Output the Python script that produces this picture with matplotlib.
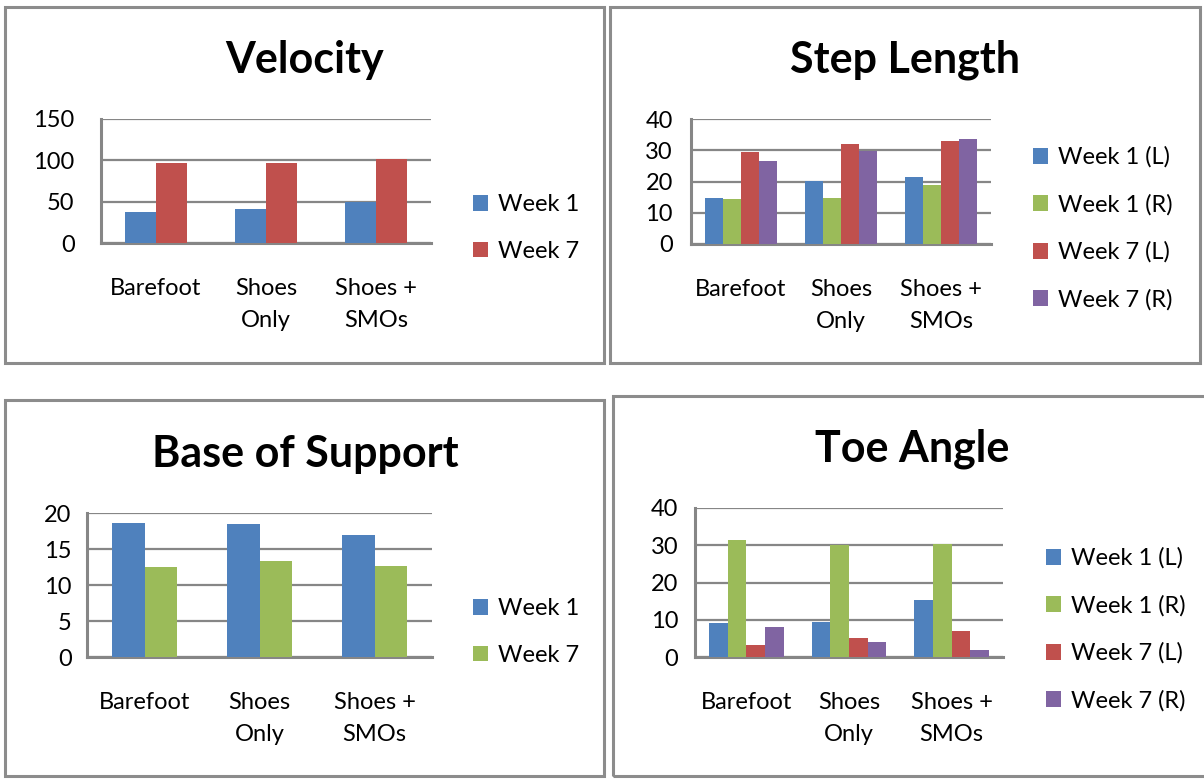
import numpy as np
import matplotlib
matplotlib.use("Agg")
import matplotlib.pyplot as plt
from matplotlib.patches import Rectangle

plt.rcParams['font.family'] = ['Lato', 'DejaVu Sans']

# data
categories = ['Barefoot', 'Shoes\nOnly', 'Shoes +\nSMOs']

vel_week1 = [37.5, 41.5, 50]
vel_week7 = [97, 96.5, 101.5]

step_w1_L = [14.8, 20.3, 21.4]
step_w1_R = [14.4, 14.8, 18.8]
step_w7_L = [29.5, 32, 32.9]
step_w7_R = [26.5, 29.8, 33.6]

bos_week1 = [18.6, 18.5, 17.0]
bos_week7 = [12.5, 13.3, 12.7]

toe_w1_L = [9.1, 9.5, 15.3]
toe_w1_R = [31.5, 30.1, 30.3]
toe_w7_L = [3.2, 5.0, 7.0]
toe_w7_R = [8.0, 4.0, 2.0]

BLUE, RED, GREEN, PURPLE = '#4F81BD', '#C0504D', '#9BBB59', '#8064A2'
GRID = '#868686'
FS = 17

W, H = 1204, 783
fig = plt.figure(figsize=(W/100, H/100), dpi=100)

def px_axes(l, r, t, b):
  return fig.add_axes([l/W, 1-b/H, (r-l)/W, (b-t)/H])

def border(l, r, t, b):
  fig.add_artist(Rectangle((l/W, 1-b/H), (r-l)/W, (b-t)/H, transform=fig.transFigure,
                           fill=False, edgecolor='#8c8c8c', linewidth=2.2))

def bar_panel(ax, series, labels, colors, yticks, ypad, leg_x, leg_y):
  n = len(series)
  bw = 1.0/(n+1.5)
  x = np.arange(len(categories))
  for i, (vals, lab, col) in enumerate(zip(series, labels, colors)):
    ax.bar(x - n*bw/2 + bw*(i+0.5), vals, width=bw, color=col, label=lab, zorder=3)
  ax.set_xlim(-0.5, len(categories)-0.5)
  ax.set_ylim(yticks[0], yticks[-1])
  ax.set_yticks(yticks)
  ax.set_xticks(x)
  ax.set_xticklabels(categories, linespacing=1.62)
  ax.yaxis.grid(True, color=GRID, linewidth=1.6, zorder=0)
  ax.set_axisbelow(True)
  for s in ['top', 'right']:
    ax.spines[s].set_visible(False)
  for s in ['left', 'bottom']:
    ax.spines[s].set_color(GRID)
    ax.spines[s].set_linewidth(2.2)
  ax.tick_params(axis='x', length=0, pad=25.5, labelsize=FS)
  ax.tick_params(axis='y', length=0, pad=ypad, labelsize=FS)
  ax.legend(loc='center left', bbox_to_anchor=(leg_x/W, 1-leg_y/H), bbox_transform=fig.transFigure,
            frameon=False, fontsize=FS, handlelength=0.64, handleheight=0.64, handletextpad=0.4,
            labelspacing=1.1, borderpad=0, borderaxespad=0)

# panel borders
border(5, 604, 7, 363)
border(610, 1200, 7, 363)
border(5, 604, 400, 776)
border(613, 1212, 396, 776)

ax1 = px_axes(101, 431, 119, 243)
bar_panel(ax1, [vel_week1, vel_week7], ['Week 1', 'Week 7'], [BLUE, RED],
          [0, 50, 100, 150], 19, 473, 228)

ax2 = px_axes(691, 991, 119, 244)
bar_panel(ax2, [step_w1_L, step_w1_R, step_w7_L, step_w7_R],
          ['Week 1 (L)', 'Week 1 (R)', 'Week 7 (L)', 'Week 7 (R)'], [BLUE, GREEN, RED, PURPLE],
          [0, 10, 20, 30, 40], 13, 1033, 228.5)

ax3 = px_axes(87, 432, 513, 657)
bar_panel(ax3, [bos_week1, bos_week7], ['Week 1', 'Week 7'], [BLUE, GREEN],
          [0, 5, 10, 15, 20], 11, 473, 632)

ax4 = px_axes(695, 1003, 508, 657)
bar_panel(ax4, [toe_w1_L, toe_w1_R, toe_w7_L, toe_w7_R],
          ['Week 1 (L)', 'Week 1 (R)', 'Week 7 (L)', 'Week 7 (R)'], [BLUE, GREEN, RED, PURPLE],
          [0, 10, 20, 30, 40], 12, 1046, 629.5)

# titles
TS = 31
fig.text(305/W, 1-60/H, 'Velocity', ha='center', va='center', fontsize=TS, fontweight='bold')
fig.text(905/W, 1-60/H, 'Step Length', ha='center', va='center', fontsize=TS, fontweight='bold')
fig.text(305/W, 1-454/H, 'Base of Support', ha='center', va='center', fontsize=TS, fontweight='bold')
fig.text(912/W, 1-449/H, 'Toe Angle', ha='center', va='center', fontsize=TS, fontweight='bold')

fig.savefig('out.png', dpi=100, facecolor='white')
